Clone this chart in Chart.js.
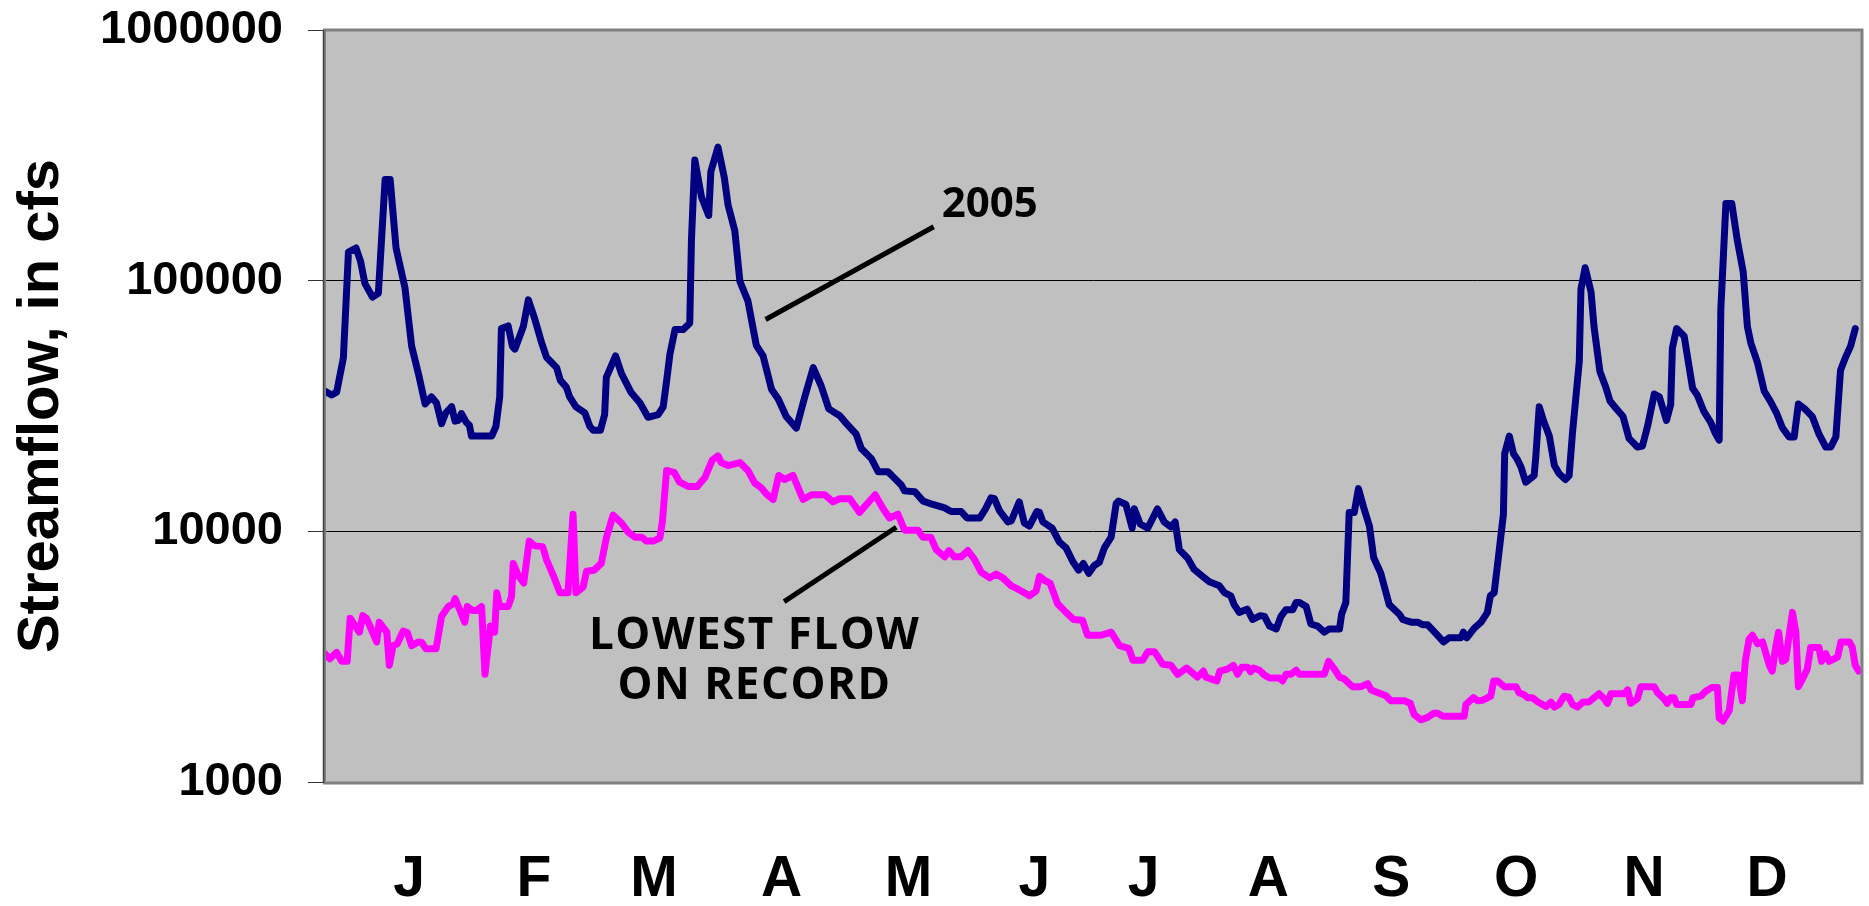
<!DOCTYPE html>
<html>
<head>
<meta charset="utf-8">
<script src="https://cdn.jsdelivr.net/npm/chart.js@4.4.1/dist/chart.umd.min.js"></script>
<style>
html,body{margin:0;padding:0;background:#ffffff;}
#wrap{width:1869px;height:906px;}
</style>
</head>
<body>
<div id="wrap"><canvas id="c" width="1869" height="906"></canvas></div>
<script>
// ---- DATA ----
const flow2005Days = [0.2,1.8,3,4.6,5.8,7.6,8.7,9.7,11.5,12.9,14.5,15.7,17.1,19.2,20.8,22.4,24,25.5,26.7,27.9,28.9,30.3,31.1,31.9,32.6,33.8,34.5,35.0,39.8,40.8,41.7,42.1,43.7,44.7,45.3,47.3,48.5,50,51.6,52.8,55.2,56.1,57.5,58.3,59.8,61.9,63.1,63.9,65.6,66.6,67.0,69.2,70.6,72.8,75,76.9,79.3,80.5,81.3,82.1,83.3,85.2,86.8,87.2,88,89.6,91.3,91.8,93.5,95,95.9,97.5,98.7,100.6,102.6,104.2,106.2,107.8,109.7,112.1,114.1,116.1,118,119.8,122.4,124,126.3,127.5,129.9,131.5,133.8,134.6,137,137.8,140.2,142.2,144.5,147.3,148.8,151.2,152.6,155.6,157,158.3,159.1,160.3,162.3,163.1,165,166.2,167.4,169.2,169.8,170.6,172.8,174.5,176.1,177.7,179.1,180.2,181.5,182.8,184,185.2,186.8,188,188.6,190.3,191.8,192.3,193.7,195.5,197.8,199.4,201,202,203,205,206.5,208.5,210.1,212.5,213.7,215.2,216,217.2,219.1,220.4,222.2,223.2,224.4,226,227.1,228.3,229.9,230.7,231.5,233.1,234.2,235.8,237.4,238.6,241,241.5,242.5,243.3,244.5,245.5,246.7,248.1,249.1,250.8,252.8,255.2,256,258,259.5,260.7,261.9,263.9,265.7,267,269.8,270.4,271.2,273,274.6,276.1,276.8,277.7,278.7,279.9,280.2,281.3,282.3,283.1,284.1,285.2,287.2,287.6,288.4,289.4,290.8,292,293.1,294.6,295.5,296.3,297.9,298.3,299.3,300.7,301.4,302.8,304.2,305.2,306.6,308.3,309.7,311.7,312.9,314.1,315.7,316.9,318.6,319.6,320,321,322.8,324.8,325.9,327.5,329.1,330.1,331.1,331.5,332.7,334.1,335.4,336.8,337.8,338.6,340.2,341.8,343.3,344.7,346.1,347.7,348.9,349.9,351.6,353.2,354.8,356.4,357.6,358.8,359.9,361.1,362.3,363.4];
const flow2005Values = [36250,35000,35900,49200,130000,135000,119000,97500,86000,89000,253000,253000,135000,94000,54800,42600,32200,34400,32500,26900,29700,31400,27500,27700,29500,27200,26500,24000,24000,26200,34400,64400,66000,54800,53300,65600,83800,70500,56900,49500,45000,40000,37600,34400,31400,29700,26200,25300,25300,29200,41100,50100,42600,36000,32500,28500,29200,31400,39700,51000,63800,63800,67600,145000,303000,215000,182000,272000,341000,258000,200000,158000,99300,83000,55200,50100,36900,33700,28700,25800,34400,45000,38000,30800,28900,26900,24400,21400,19500,17300,17300,16800,15300,14500,14400,13200,12800,12400,12000,12000,11300,11300,12300,13600,13500,12100,10900,11000,13100,10800,10500,12000,11900,10900,10300,9070,8590,7580,7000,7450,6800,7310,7530,8590,9480,12900,13200,12800,10300,12300,10700,10300,12300,10900,10400,10900,8450,7800,7050,6610,6290,6060,5690,5530,5100,4750,4890,4450,4610,4580,4190,4080,4580,4870,4870,5200,5200,5010,4270,4190,3960,4080,4080,4670,5200,11900,11900,14800,12500,10500,7860,6800,5100,4670,4450,4340,4340,4240,4240,3910,3620,3760,3760,3960,3760,4110,4340,4750,5530,5690,7860,11700,20400,24000,20400,19500,18000,15700,16700,20000,31400,27700,24000,18300,17000,16100,16700,24800,47500,92400,112600,90100,65600,43400,37600,33100,31000,28700,23500,21700,21900,26200,35300,34400,27700,32000,53900,64400,60000,37200,35000,30000,27200,24800,23100,77200,203000,203000,145000,108600,65600,56500,47100,36200,32900,29700,25900,23800,23800,32200,30600,28700,24400,21700,21700,23800,43900,49500,54800,64400];

const lowestDays = [0.2,1.4,3,4.2,5.5,6.2,7.4,8.4,9.2,10.1,11.3,12.5,13.1,14.9,15.5,16.4,17.4,18.8,19.8,20.8,22.4,23.2,24.2,26.6,27.9,29.5,30.7,31.1,32.3,33.4,34,35.3,36.2,37.4,38.2,39.5,40.5,41,41.7,43.7,44.5,44.9,46.1,47.4,48.7,50,51.9,52.8,54.4,56,57.9,59.1,59.8,61.5,62.3,64.1,65.8,67.0,68.6,70.6,72.2,73.8,75.4,76.5,78.1,79.7,80.3,81.3,83.1,84.4,86.4,88.6,90.4,92.1,93.5,94.3,95.9,98.7,100.6,102.2,103.8,105,106.6,107.9,109.3,111.3,113.7,115.7,118.8,120.8,122.4,124.8,127.1,130.8,132.7,134.2,136.2,137.8,141,142.1,144,145.3,147.3,148.3,149.6,151.2,152.8,154.4,156,158,159.5,161.1,163.1,164.6,166.2,167.4,169,169.8,171,172.3,174.1,176.1,177.9,180,181.2,184.4,186.8,188.8,191,192,194.3,195.5,197.1,199,201,202.6,204.7,207.3,208.7,209.3,211.9,212.6,214.4,215.8,216.8,217.8,219.2,219.9,220.6,222,223.2,224.4,226.7,227.5,228.3,229.5,230.7,231.5,237.4,238.4,239.8,241,242.1,244.1,246.1,247.7,248.5,250.8,252,253.2,256.4,257.8,258.7,260.3,261.9,263.3,264.3,265.5,270.6,271,272.8,273.8,275,276.9,277.6,278.5,280.1,282.9,283.6,284.8,285.6,286.8,288,290,291.2,292,293.1,294.3,295.4,296.3,297.5,298.7,300.3,301.4,302.6,303.8,304.6,305.4,308.6,309.4,310.1,311.7,312.5,315.7,316.5,318,318.8,319.6,320.4,321,324.4,324.9,326.7,327.9,329.3,330.7,331.1,332,333.5,334.6,335.7,336.6,337.3,338.2,339,340.2,341.4,343,343.7,344.5,345.2,346.1,346.9,348.5,349.3,349.9,350.9,352,352.8,354.8,355.4,356.4,357.2,359.2,360,362,362.7,363.4,364.2];
const lowestValues = [3250,3100,3290,3030,3030,4500,4190,3960,4610,4500,4040,3620,4340,3960,2920,3500,3560,4000,3940,3500,3620,3600,3400,3400,4580,5010,5140,5390,4830,4340,5010,4830,4830,5010,2690,4190,3960,5690,5010,5010,5480,7450,6680,6220,9140,8750,8690,7720,6680,5690,5690,11700,5690,6000,6930,7000,7450,9400,11600,10800,9930,9480,9480,9140,9140,9400,10900,17500,17200,15700,15100,15100,16400,19200,20000,18800,18300,18800,17500,15600,14900,14100,13400,16700,16100,16700,13400,14000,14000,13100,13500,13500,11900,14000,12300,11300,11700,10100,10100,9480,9480,8450,7910,8380,7910,7910,8380,7720,6860,6520,6760,6520,6060,5890,5690,5530,5780,6610,6380,6220,5140,4750,4450,4420,3850,3850,3960,3500,3410,3060,3060,3310,3310,2950,2920,2690,2850,2620,2770,2620,2530,2770,2820,2920,2690,2870,2870,2750,2850,2790,2670,2600,2600,2530,2690,2690,2790,2690,2690,3030,2820,2620,2580,2400,2400,2470,2330,2250,2210,2110,2110,2060,1860,1770,1810,1880,1880,1830,1830,2040,2170,2110,2120,2200,2530,2530,2400,2400,2270,2230,2170,2170,2090,2000,2080,1990,2040,2200,2180,2040,1990,2080,2090,2170,2250,2150,2060,2250,2250,2330,2060,2150,2400,2400,2270,2150,2060,2170,2170,2040,2040,2170,2200,2300,2380,2380,1800,1750,1930,2670,2670,2110,3030,3720,3850,3560,3620,2920,2770,3440,3960,3030,3080,4750,3960,2400,2580,2820,3440,3440,3030,3250,3030,3150,3620,3620,3440,2920,2770];

const monthLabels = ['J','F','M','A','M','J','J','A','S','O','N','D'];
const monthLabelDays = [20.2,49.8,78.3,108.6,138.7,168.6,194.5,224.1,253.3,282.9,313.3,342.5];
const yTickValues = [1000,10000,100000,1000000];
const yTickLabels = ['1000','10000','100000','1000000'];
const yAxisTitle = 'Streamflow, in cfs';

// annotation texts and their anchor points (in data units: day, cfs)
const label2005Text = '2005';
const label2005Anchor = [146.6, 200900];
const leader2005 = [[104.8, 70000],[144.7, 164000]];
const labelLowestLines = ['LOWEST FLOW','ON RECORD'];
const labelLowestAnchors = [[102.2, 3816],[102.2, 2413]];
const leaderLowest = [[109.2, 5240],[135.8, 10380]];

// ---- CHART ----
const FONT = '"Liberation Sans", Arial, Helvetica, sans-serif';
const ANNOT_FONT = '"Open Sans", "Noto Sans", sans-serif';

const framePlugin = {
  id: 'framePlugin',
  beforeDraw(chart) {
    const {ctx, chartArea: a} = chart;
    ctx.save();
    ctx.fillStyle = '#C0C0C0';
    ctx.fillRect(a.left, a.top, a.right - a.left, a.bottom - a.top);
    ctx.restore();
  },
  afterDatasetsDraw(chart) {
    const {ctx, chartArea: a, scales} = chart;
    const px = (p) => [scales.x.getPixelForValue(p[0]), scales.y.getPixelForValue(p[1])];
    ctx.save();
    // plot border
    ctx.strokeStyle = '#808080';
    ctx.lineWidth = 3;
    ctx.strokeRect(a.left + 0.5, a.top, a.right - a.left - 0.5, a.bottom - a.top + 1);
    ctx.strokeStyle = '#404040';
    ctx.lineWidth = 1.5;
    ctx.beginPath();
    ctx.moveTo(a.left - 0.5, a.top);
    ctx.lineTo(a.left - 0.5, a.bottom + 1);
    ctx.stroke();
    // leader lines
    ctx.strokeStyle = '#000000';
    ctx.lineWidth = 5;
    ctx.lineCap = 'butt';
    [leader2005, leaderLowest].forEach(seg => {
      const p0 = px(seg[0]), p1 = px(seg[1]);
      ctx.beginPath();
      ctx.moveTo(p0[0], p0[1]);
      ctx.lineTo(p1[0], p1[1]);
      ctx.stroke();
    });
    // annotation texts
    ctx.fillStyle = '#000000';
    ctx.textBaseline = 'middle';
    ctx.font = 'bold 42px ' + ANNOT_FONT;
    ctx.textAlign = 'left';
    const t = px(label2005Anchor);
    ctx.fillText(label2005Text, t[0], t[1]);
    ctx.font = 'bold 44px ' + ANNOT_FONT;
    try { ctx.letterSpacing = '1.5px'; } catch (e) {}
    ctx.textAlign = 'center';
    labelLowestLines.forEach((s, i) => {
      const q = px(labelLowestAnchors[i]);
      ctx.fillText(s, q[0], q[1]);
    });
    ctx.restore();
  }
};

new Chart(document.getElementById('c'), {
  type: 'line',
  data: {
    datasets: [
      {
        label: '2005',
        data: flow2005Days.map((d, i) => ({x: d, y: flow2005Values[i]})),
        borderColor: '#000080',
        borderWidth: 7,
        pointRadius: 0,
        tension: 0,
        fill: false,
        borderJoinStyle: 'round',
        borderCapStyle: 'round'
      },
      {
        label: 'Lowest flow on record',
        data: lowestDays.map((d, i) => ({x: d, y: lowestValues[i]})),
        borderColor: '#FF00FF',
        borderWidth: 7,
        pointRadius: 0,
        tension: 0,
        fill: false,
        borderJoinStyle: 'round',
        borderCapStyle: 'round'
      }
    ]
  },
  options: {
    responsive: false,
    devicePixelRatio: 1,
    animation: false,
    layout: {padding: {top: 30, right: 7, bottom: 0, left: 0}},
    plugins: {legend: {display: false}, tooltip: {enabled: false}},
    scales: {
      x: {
        type: 'linear',
        position: 'bottom',
        min: 0,
        max: 365,
        grid: {display: false, drawTicks: false, tickLength: 0},
        border: {display: false},
        afterBuildTicks: (axis) => { axis.ticks = monthLabelDays.map(v => ({value: v})); },
        afterFit: (axis) => { axis.height = 124; axis.paddingLeft = 0; axis.paddingRight = 0; },
        ticks: {
          autoSkip: false,
          maxRotation: 0,
          padding: 70,
          color: '#000000',
          font: {family: FONT, size: 57, weight: 'bold', lineHeight: 1},
          callback: (v, i) => monthLabels[i]
        }
      },
      y: {
        type: 'logarithmic',
        position: 'left',
        min: 1000,
        max: 1000000,
        afterBuildTicks: (axis) => { axis.ticks = yTickValues.map(v => ({value: v})); },
        afterFit: (axis) => { axis.width = 324; axis.paddingTop = 20; axis.paddingBottom = 20; },
        grid: {color: '#000000', lineWidth: 1, tickLength: 16, drawTicks: true, tickColor: '#333333'},
        border: {display: true, color: '#404040', width: 1},
        ticks: {
          padding: 25,
          color: '#000000',
          font: {family: FONT, size: 47, weight: 'bold', lineHeight: 1},
          callback: (v, i) => yTickLabels[i]
        },
        title: {
          display: true,
          text: yAxisTitle,
          color: '#000000',
          font: {family: FONT, size: 58, weight: 'bold', lineHeight: 1},
          padding: {top: 13, bottom: 0}
        }
      }
    }
  },
  plugins: [framePlugin]
});
</script>
</body>
</html>
